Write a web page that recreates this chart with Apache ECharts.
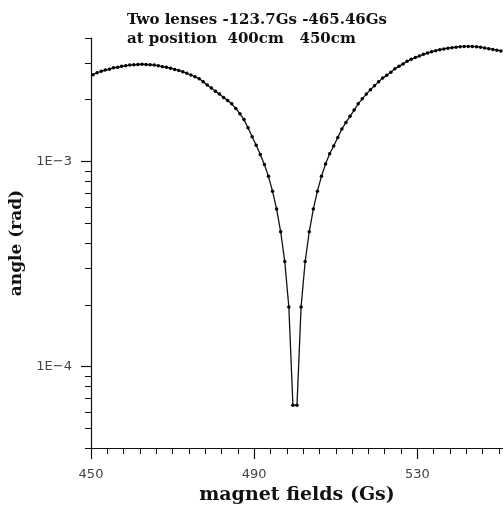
<!DOCTYPE html>
<html>
<head>
<meta charset="utf-8">
<script src="https://cdn.jsdelivr.net/npm/echarts@6/dist/echarts.min.js"></script>
<style>
  html, body { margin: 0; padding: 0; background: #fff; }
  #chart { width: 503px; height: 510px; }
</style>
</head>
<body>
<div id="chart"></div>
<script>
// magnet field (Gs), one point per Gs
var fieldGs = [
  450.5, 451.5, 452.5, 453.5, 454.5, 455.5, 456.5, 457.5, 458.5, 459.5,
  460.5, 461.5, 462.5, 463.5, 464.5, 465.5, 466.5, 467.5, 468.5, 469.5,
  470.5, 471.5, 472.5, 473.5, 474.5, 475.5, 476.5, 477.5, 478.5, 479.5,
  480.5, 481.5, 482.5, 483.5, 484.5, 485.5, 486.5, 487.5, 488.5, 489.5,
  490.5, 491.5, 492.5, 493.5, 494.5, 495.5, 496.5, 497.5, 498.5, 499.5,
  500.5, 501.5, 502.5, 503.5, 504.5, 505.5, 506.5, 507.5, 508.5, 509.5,
  510.5, 511.5, 512.5, 513.5, 514.5, 515.5, 516.5, 517.5, 518.5, 519.5,
  520.5, 521.5, 522.5, 523.5, 524.5, 525.5, 526.5, 527.5, 528.5, 529.5,
  530.5, 531.5, 532.5, 533.5, 534.5, 535.5, 536.5, 537.5, 538.5, 539.5,
  540.5, 541.5, 542.5, 543.5, 544.5, 545.5, 546.5, 547.5, 548.5, 549.5,
  550.5
];
// angle (rad)
var angleRad = [
  2.65e-3, 2.71e-3, 2.75e-3, 2.79e-3, 2.82e-3, 2.86e-3, 2.88e-3, 2.91e-3, 2.93e-3, 2.95e-3,
  2.96e-3, 2.97e-3, 2.98e-3, 2.97e-3, 2.96e-3, 2.95e-3, 2.93e-3, 2.90e-3, 2.88e-3, 2.85e-3,
  2.81e-3, 2.78e-3, 2.74e-3, 2.69e-3, 2.64e-3, 2.59e-3, 2.53e-3, 2.45e-3, 2.36e-3, 2.28e-3,
  2.20e-3, 2.13e-3, 2.05e-3, 1.98e-3, 1.91e-3, 1.81e-3, 1.71e-3, 1.60e-3, 1.46e-3, 1.32e-3,
  1.20e-3, 1.08e-3, 9.67e-4, 8.46e-4, 7.16e-4, 5.86e-4, 4.54e-4, 3.25e-4, 1.95e-4, 6.48e-5,
  6.48e-5, 1.95e-4, 3.25e-4, 4.54e-4, 5.86e-4, 7.16e-4, 8.46e-4, 9.72e-4, 1.09e-3, 1.19e-3,
  1.31e-3, 1.44e-3, 1.55e-3, 1.66e-3, 1.78e-3, 1.91e-3, 2.02e-3, 2.13e-3, 2.24e-3, 2.34e-3,
  2.45e-3, 2.55e-3, 2.63e-3, 2.72e-3, 2.83e-3, 2.91e-3, 2.99e-3, 3.08e-3, 3.15e-3, 3.21e-3,
  3.27e-3, 3.33e-3, 3.38e-3, 3.43e-3, 3.47e-3, 3.51e-3, 3.54e-3, 3.57e-3, 3.59e-3, 3.61e-3,
  3.63e-3, 3.64e-3, 3.64e-3, 3.64e-3, 3.63e-3, 3.61e-3, 3.58e-3, 3.55e-3, 3.52e-3, 3.49e-3,
  3.46e-3
];

var xMajorTicks = [450, 490, 530];
var xMinorTicks = [];
for (var t = 450; t <= 550; t += 4) xMinorTicks.push(t);

var yMajorTicks = [1e-4, 1e-3];
var yMajorLabels = ['1E\u22124', '1E\u22123'];
var yMinorTicks = [4e-5, 5e-5, 6e-5, 7e-5, 8e-5, 9e-5,
  2e-4, 3e-4, 4e-4, 5e-4, 6e-4, 7e-4, 8e-4, 9e-4,
  2e-3, 3e-3, 4e-3];

var titleLines = ['Two lenses -123.7Gs -465.46Gs', 'at position  400cm   450cm'];

var seriesData = fieldGs.map(function (f, i) { return [f, angleRad[i]]; });

var chart = echarts.init(document.getElementById('chart'));

var axisColor = '#111';
var serifFont = '"DejaVu Serif", "Liberation Serif", serif';

var option = {
    animation: false,
    backgroundColor: '#fff',
    title: {
        text: titleLines.join('\n'),
        left: 122,
        top: 6,
        textStyle: {
            fontFamily: serifFont,
            fontWeight: 'bold',
            fontSize: 15,
            lineHeight: 19,
            color: '#111'
        }
    },
    grid: {
        left: 91,
        right: 0,
        top: 38,
        bottom: 58
    },
    xAxis: [
        {
            type: 'value',
            min: 450,
            max: 551,
            axisLine: { show: true, onZero: false, lineStyle: { color: axisColor, width: 1.2 } },
            axisTick: { show: true, customValues: xMajorTicks, length: 11, lineStyle: { color: axisColor, width: 1.2 } },
            axisLabel: {
                customValues: xMajorTicks,
                margin: 20,
                color: '#444',
                fontFamily: '"DejaVu Sans", sans-serif',
                fontSize: 13
            },
            splitLine: { show: false },
            name: 'magnet fields (Gs)',
            nameLocation: 'middle',
            nameGap: 33,
            nameTextStyle: {
                fontFamily: serifFont,
                fontWeight: 'bold',
                fontSize: 19,
                color: '#111'
            }
        },
        {
            type: 'value',
            min: 450,
            max: 551,
            position: 'bottom',
            axisLine: { show: false },
            axisTick: { show: true, customValues: xMinorTicks, length: 6, lineStyle: { color: axisColor, width: 1 } },
            axisLabel: { show: false },
            splitLine: { show: false }
        }
    ],
    yAxis: [
        {
            type: 'log',
            logBase: 10,
            min: 4e-5,
            max: 4e-3,
            axisLine: { show: true, onZero: false, lineStyle: { color: axisColor, width: 1.2 } },
            axisTick: { show: true, customValues: yMajorTicks, length: 10, lineStyle: { color: axisColor, width: 1.2 } },
            axisLabel: {
                customValues: yMajorTicks,
                margin: 19,
                color: '#444',
                fontFamily: '"DejaVu Sans", sans-serif',
                fontSize: 13,
                formatter: function (v) {
                    for (var i = 0; i < yMajorTicks.length; i++) {
                        if (Math.abs(Math.log10(v) - Math.log10(yMajorTicks[i])) < 0.01) return yMajorLabels[i];
                    }
                    return '';
                }
            },
            splitLine: { show: false },
            name: 'angle (rad)',
            nameLocation: 'middle',
            nameGap: 46,
            nameTextStyle: {
                fontFamily: serifFont,
                fontWeight: 'bold',
                fontSize: 17,
                color: '#111'
            }
        },
        {
            type: 'log',
            logBase: 10,
            min: 4e-5,
            max: 4e-3,
            position: 'left',
            axisLine: { show: false },
            axisTick: { show: true, customValues: yMinorTicks, length: 6, lineStyle: { color: axisColor, width: 1 } },
            axisLabel: { show: false },
            splitLine: { show: false }
        }
    ],
    series: [
        {
            type: 'line',
            xAxisIndex: 0,
            yAxisIndex: 0,
            data: seriesData,
            symbol: 'circle',
            symbolSize: 3.5,
            showSymbol: true,
            itemStyle: { color: '#000' },
            lineStyle: { color: '#111', width: 1.3 },
            clip: true
        }
    ]
};
chart.setOption(option);
</script>
</body>
</html>
